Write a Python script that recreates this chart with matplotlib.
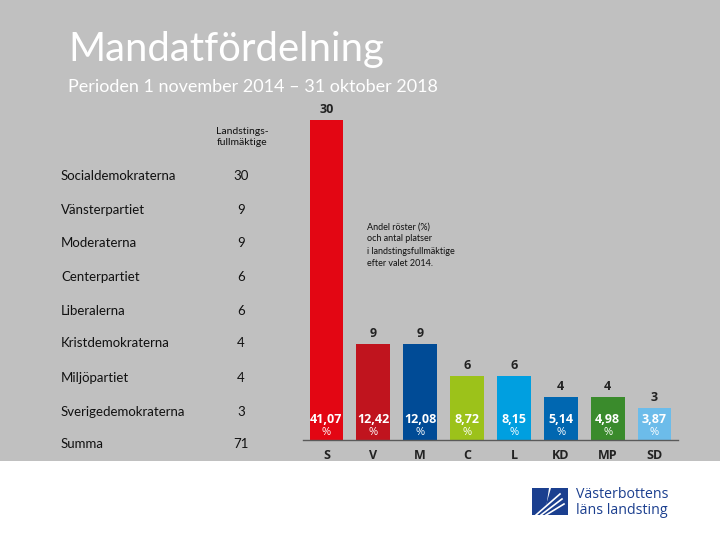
import matplotlib.pyplot as plt
from matplotlib.patches import Rectangle, Polygon

# partier och data
parties = ['S', 'V', 'M', 'C', 'L', 'KD', 'MP', 'SD']
party_names = ['Socialdemokraterna', 'Vänsterpartiet', 'Moderaterna', 'Centerpartiet',
               'Liberalerna', 'Kristdemokraterna', 'Miljöpartiet', 'Sverigedemokraterna']
seats = [30, 9, 9, 6, 6, 4, 4, 3]
vote_share = [41.07, 12.42, 12.08, 8.72, 8.15, 5.14, 4.98, 3.87]
total_seats = 71
colors = ['#E30613', '#C0141E', '#004B96', '#9CC21A', '#009FE0', '#0067B1', '#3A8B2C', '#6CBCEA']

W, H = 720, 540
fig = plt.figure(figsize=(7.2, 5.4), dpi=100)
fig.patch.set_facecolor('white')

def fx(px):
    return px / W

def fy(py):
    return 1 - py / H

# grå bakgrund
fig.patches.append(Rectangle((0, fy(461)), 1, 1 - fy(461), transform=fig.transFigure,
                             facecolor='#C0C0C0', edgecolor='none', zorder=-5))

fig.text(fx(68), fy(50), 'Mandatfördelning', family='Lato', fontsize=28.8, color='white',
         va='center', ha='left')
fig.text(fx(68), fy(87), 'Perioden 1 november 2014 – 31 oktober 2018', family='Lato',
         fontsize=13, color='white', va='center', ha='left')

# tabell till vänster
txt = '#111111'
fig.text(fx(242), fy(137), 'Landstings-\nfullmäktige', family='Lato', fontsize=7.5,
         color=txt, ha='center', va='center', linespacing=1.35)
row_y = [176, 210, 243, 277, 311, 343, 378, 412]
for name, s, y in zip(party_names, seats, row_y):
    fig.text(fx(61), fy(y), name, family='Lato', fontsize=9.5, color=txt, va='center')
    fig.text(fx(241), fy(y), str(s), family='Lato', fontsize=9.5, color=txt, va='center', ha='center')
fig.text(fx(61), fy(444), 'Summa', family='Lato', fontsize=9.5, color=txt, va='center')
fig.text(fx(241), fy(444), str(total_seats), family='Lato', fontsize=9.5, color=txt,
         va='center', ha='center')

# stapeldiagram
ax = fig.add_axes([fx(303), fy(440), fx(375), 340 / H])
ax.set_facecolor('none')
x = range(len(parties))
ax.bar(x, seats, width=0.72, color=colors)
ax.set_xlim(-0.5, 7.5)
ax.set_ylim(0, 340 / (320 / 30))
for side in ['top', 'left', 'right']:
    ax.spines[side].set_visible(False)
ax.spines['bottom'].set_color('#5A5A5A')
ax.spines['bottom'].set_linewidth(1)
ax.set_yticks([])
ax.set_xticks(list(x))
ax.set_xticklabels(parties, family='Open Sans', fontsize=9, weight='bold', color='#222222')
ax.tick_params(axis='x', length=0, pad=6.5)

for i, (s, v) in enumerate(zip(seats, vote_share)):
    ax.annotate(str(s), (i, s), xytext=(0, 3), textcoords='offset points', ha='center',
                va='bottom', family='Open Sans', fontsize=9, weight='bold', color='#222222')
    ax.annotate(f'{v:.2f}'.replace('.', ','), (i, 0), xytext=(0, 15), textcoords='offset points',
                ha='center', va='center', family='Open Sans', fontsize=9, weight='bold',
                color='white')
    ax.annotate('%', (i, 0), xytext=(0, 5.5), textcoords='offset points', ha='center',
                va='center', family='Open Sans', fontsize=8, color='white')

fig.text(fx(367), fy(245), 'Andel röster (%)\noch antal platser\ni landstingsfullmäktige\nefter valet 2014.',
         family='Lato', fontsize=6.5, color=txt, va='center', ha='left', linespacing=1.45)

# logga
blue = '#1B3F8F'
fig.patches.append(Polygon([(fx(532), fy(488)), (fx(549), fy(488)), (fx(545), fy(515)), (fx(532), fy(515))],
                           closed=True, transform=fig.transFigure, facecolor=blue, edgecolor='none'))
fig.patches.append(Polygon([(fx(551), fy(488)), (fx(568), fy(488)), (fx(568), fy(515)), (fx(543), fy(515))],
                           closed=True, transform=fig.transFigure, facecolor=blue, edgecolor='none'))
for k in range(3):
    fig.lines.append(plt.Line2D([fx(536 + 5 * k), fx(560 + 2 * k)], [fy(515), fy(494 + 5 * k)],
                                transform=fig.transFigure, color='white', linewidth=1.2))
fig.text(fx(576), fy(494), 'Västerbottens', family='Open Sans', fontsize=10.2, color=blue, va='center')
fig.text(fx(576), fy(511), 'läns landsting', family='Open Sans', fontsize=10.2, color=blue, va='center')

fig.savefig('out.png', dpi=100, facecolor=fig.get_facecolor())
